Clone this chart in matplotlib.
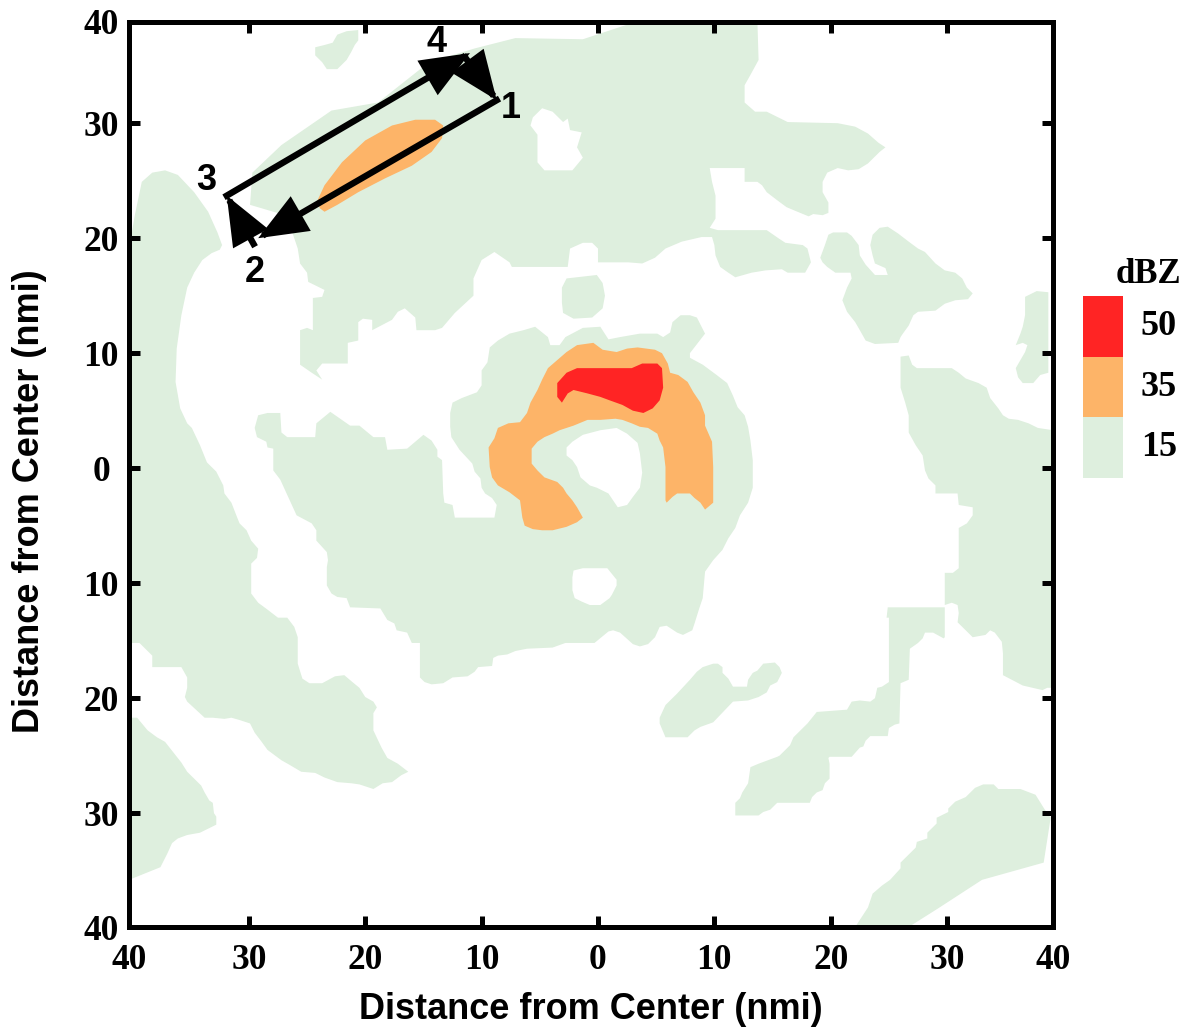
import matplotlib
matplotlib.use("Agg")
import matplotlib.pyplot as plt

# ---------------- data (nmi from storm center) ----------------
levels = [15, 35, 50]
level_colors = ["#DEEFDE", "#FDB468", "#FF2424"]

x_ticks = [-40.3, -30, -20, -10, 0, 10, 20, 30, 39.1]
y_ticks = [-39.9, -30, -20, -10, 0, 10, 20, 30, 38.8]
tick_labels = ["40", "30", "20", "10", "0", "10", "20", "30", "40"]

# 15 dBZ regions
green_north = [(-29.7, 25.7), (-27.2, 28.1), (-22.9, 31.1), (-18.9, 31.8), (-14.9, 35.0), (-13.2, 35.7),
               (-10.6, 36.5), (-7.1, 37.4), (-1.3, 37.3), (3.2, 38.8), (13.7, 38.8), (13.8, 35.5),
               (13.1, 34.2), (12.6, 33.3), (12.6, 31.8), (13.5, 31.0), (14.5, 31.0), (16.3, 30.1),
               (20.6, 30.0), (22.1, 29.7), (23.2, 29.1), (24.1, 28.3), (24.7, 27.9), (24.2, 27.5),
               (23.2, 26.5), (22.4, 26.0), (21.5, 25.9), (20.6, 26.1), (19.7, 25.7), (19.3, 24.9),
               (19.3, 24.0), (19.8, 23.1), (19.8, 22.2), (19.3, 22.0), (18.5, 22.1), (18.1, 21.9),
               (16.9, 22.4), (16.2, 22.7), (15.4, 23.3), (14.5, 24.0), (14.1, 24.6), (13.7, 24.9),
               (12.6, 24.9), (12.6, 26.1), (9.6, 26.1), (9.8, 24.9), (10.1, 23.7), (10.1, 21.7),
               (9.6, 20.9), (10.3, 20.7), (12.6, 20.7), (14.5, 20.7), (15.5, 20.0), (16.1, 19.6),
               (17.6, 19.4), (18.0, 19.1), (18.3, 17.9), (17.8, 17.0), (16.3, 17.0), (15.8, 17.3),
               (14.4, 17.2), (13.2, 17.0), (11.8, 16.6), (11.2, 17.0), (10.5, 17.5), (10.1, 18.5),
               (10.0, 19.4), (9.8, 20.1), (8.9, 20.1), (7.2, 19.7), (5.8, 19.1), (4.9, 18.3),
               (3.8, 17.8), (2.6, 17.9), (0.0, 17.9), (0.0, 19.1), (-0.5, 19.6), (-1.3, 19.6),
               (-2.4, 19.1), (-2.6, 17.5), (-7.4, 17.5), (-7.6, 17.9), (-8.9, 18.8), (-10.0, 18.1),
               (-10.7, 16.5), (-10.7, 15.0), (-12.3, 13.5), (-13.4, 12.2), (-14.0, 12.0), (-15.6, 12.0),
               (-15.7, 13.1), (-16.6, 13.9), (-17.2, 13.6), (-17.7, 12.9), (-19.4, 12.0), (-19.4, 12.9),
               (-20.2, 13.0), (-20.6, 12.7), (-20.6, 11.1), (-21.5, 10.9), (-21.5, 9.1), (-23.7, 9.1),
               (-24.2, 8.5), (-23.7, 7.7), (-24.6, 8.3), (-25.6, 9.0), (-25.6, 12.0), (-25.0, 12.2),
               (-24.5, 12.0), (-24.5, 14.8), (-23.7, 14.9), (-23.5, 15.5), (-23.9, 15.7), (-24.9, 16.2),
               (-25.0, 17.0), (-25.6, 17.8), (-25.8, 19.1), (-26.2, 20.3), (-26.9, 22.0), (-29.9, 22.9)]
green_north_islet = [(-24.3, 36.6), (-23.5, 36.8), (-22.8, 37.0), (-22.4, 37.7), (-21.6, 38.0), (-20.6, 38.1),
                     (-20.6, 37.2), (-20.9, 36.8), (-21.2, 36.2), (-21.6, 35.5), (-22.4, 34.7), (-23.3, 34.7),
                     (-23.7, 35.3), (-24.3, 35.9)]
green_west_arc = [(-40.3, 19.1), (-39.8, 22.0), (-39.2, 24.9), (-38.3, 25.7), (-37.2, 25.9), (-36.1, 25.5),
                  (-34.7, 24.0), (-33.5, 22.3), (-32.7, 20.5), (-32.3, 19.4), (-32.5, 19.0), (-33.2, 18.7),
                  (-34.0, 18.1), (-34.7, 17.0), (-35.3, 15.7), (-35.8, 13.3), (-36.2, 10.4), (-36.3, 7.5),
                  (-35.9, 5.2), (-35.3, 3.9), (-34.9, 3.5), (-34.2, 2.0), (-33.6, 0.5), (-32.8, -0.3),
                  (-32.2, -1.5), (-32.1, -2.2), (-31.5, -3.0), (-31.0, -4.3), (-30.8, -4.8), (-30.2, -5.4),
                  (-29.8, -6.3), (-29.2, -7.0), (-29.3, -7.8), (-29.8, -8.3), (-29.8, -10.9), (-29.2, -11.7),
                  (-28.4, -12.3), (-27.5, -13.0), (-26.7, -13.0), (-26.1, -13.8), (-25.8, -14.7), (-25.8, -17.0),
                  (-25.4, -18.3), (-24.8, -18.7), (-23.7, -18.7), (-22.6, -18.1), (-21.8, -18.0), (-21.1, -18.6),
                  (-20.5, -19.1), (-20.0, -19.9), (-19.3, -20.3), (-19.0, -20.8), (-19.3, -21.3), (-19.3, -22.8),
                  (-18.6, -24.3), (-18.1, -25.2), (-17.2, -25.7), (-16.3, -26.4), (-16.9, -26.7), (-17.7, -27.3),
                  (-18.5, -27.4), (-19.3, -27.9), (-20.5, -27.5), (-21.2, -27.4), (-22.4, -27.3), (-23.5, -26.9),
                  (-24.3, -26.5), (-25.5, -26.4), (-26.5, -25.8), (-27.2, -25.4), (-28.4, -24.5), (-28.9, -23.8),
                  (-29.5, -23.0), (-29.9, -22.2), (-30.8, -21.9), (-31.5, -21.7), (-32.1, -21.8), (-33.1, -21.7),
                  (-33.8, -21.7), (-35.3, -20.3), (-35.5, -19.9), (-35.3, -19.1), (-35.3, -18.2), (-35.8, -17.3),
                  (-38.3, -17.3), (-38.3, -16.3), (-39.4, -15.2), (-40.3, -15.2)]
green_southwest = [(-40.3, -21.7), (-39.6, -21.7), (-38.7, -22.8), (-37.9, -23.4), (-37.2, -23.8), (-36.5, -24.7),
                   (-35.8, -25.6), (-35.3, -26.4), (-34.1, -27.6), (-33.8, -28.2), (-33.4, -28.9), (-33.1, -29.1),
                   (-33.0, -30.0), (-32.8, -30.3), (-32.8, -31.0), (-34.2, -31.7), (-35.3, -31.9), (-36.1, -32.2),
                   (-36.6, -32.6), (-37.0, -33.5), (-37.6, -34.7), (-40.3, -35.8)]
green_core = [(-8.6, 11.1), (-7.6, 11.7), (-6.4, 12.0), (-5.4, 12.3), (-4.3, 11.4), (-4.1, 10.7), (-3.3, 10.7),
              (-2.8, 11.4), (-1.3, 12.2), (0.2, 12.3), (0.9, 11.2), (1.9, 11.4), (3.6, 11.7), (5.1, 11.7),
              (5.6, 11.4), (6.2, 11.8), (6.4, 12.7), (7.1, 13.3), (7.9, 13.3), (8.5, 13.1), (9.2, 11.7),
              (7.9, 10.0), (7.9, 9.6), (9.0, 9.0), (10.2, 8.1), (11.1, 7.4), (11.6, 6.3), (12.0, 5.3),
              (12.6, 4.6), (12.9, 3.6), (13.1, 2.4), (13.3, 0.7), (13.3, -1.7), (12.9, -3.0), (12.2, -4.1),
              (11.8, -5.2), (11.2, -6.1), (10.7, -7.1), (9.9, -8.0), (9.2, -9.0), (9.0, -11.3), (8.7, -12.2),
              (8.3, -13.5), (8.1, -14.1), (7.3, -14.5), (6.8, -14.3), (5.9, -13.7), (5.3, -13.8), (4.9, -14.7),
              (4.3, -15.3), (3.6, -15.5), (3.0, -15.3), (1.9, -14.3), (1.3, -14.1), (0.9, -14.2), (-0.3, -15.2),
              (-2.8, -15.2), (-3.9, -15.6), (-6.1, -15.7), (-7.1, -15.9), (-7.8, -16.2), (-8.6, -16.3),
              (-9.0, -16.5), (-9.1, -17.2), (-10.3, -17.3), (-10.6, -17.7), (-11.2, -18.1), (-12.5, -18.2),
              (-13.3, -18.7), (-14.3, -18.8), (-14.9, -18.6), (-15.3, -18.2), (-15.3, -15.2), (-16.0, -15.2),
              (-16.4, -14.3), (-17.3, -14.1), (-17.5, -13.5), (-18.1, -13.2), (-18.7, -12.2), (-21.3, -12.1),
              (-21.6, -11.3), (-22.4, -11.2), (-22.9, -10.9), (-23.3, -10.2), (-23.3, -8.6), (-23.2, -8.0),
              (-23.3, -7.3), (-24.2, -6.3), (-24.2, -5.4), (-24.6, -4.8), (-25.9, -4.1), (-27.3, -1.0),
              (-27.9, -0.2), (-27.9, 1.7), (-28.4, 1.8), (-28.5, 2.3), (-29.3, 2.7), (-29.5, 3.5), (-29.2, 4.6),
              (-28.4, 4.8), (-27.3, 4.8), (-27.2, 3.1), (-26.7, 2.7), (-24.3, 2.7), (-24.2, 3.9), (-23.0, 4.9),
              (-21.3, 3.7), (-20.5, 3.7), (-19.3, 2.7), (-18.3, 2.7), (-18.1, 1.6), (-16.4, 1.7), (-15.0, 2.9),
              (-14.3, 2.4), (-13.8, 1.6), (-13.8, 1.0), (-13.4, 0.7), (-13.3, -2.2), (-13.2, -3.0), (-12.5, -3.2),
              (-12.3, -4.3), (-8.9, -4.3), (-8.7, -3.2), (-9.1, -2.6), (-9.7, -2.2), (-10.0, -1.7), (-10.1, -0.9),
              (-10.6, -0.3), (-10.8, 0.4), (-11.9, 1.6), (-12.6, 2.7), (-12.7, 3.6), (-12.7, 4.8), (-12.5, 5.7),
              (-11.7, 6.1), (-10.4, 6.6), (-10.0, 7.2), (-10.0, 8.5), (-9.5, 9.2), (-9.3, 10.5)]
green_core_islet = [(-2.7, 16.5), (-0.1, 16.8), (0.4, 16.1), (0.6, 15.0), (0.4, 13.9), (-0.5, 13.1), (-2.1, 13.0),
                    (-3.0, 13.5), (-3.1, 14.4), (-3.1, 15.7)]
green_ne_band = [(19.5, 19.4), (19.8, 20.3), (20.2, 20.5), (21.4, 20.5), (21.8, 20.2), (22.4, 19.4), (22.5, 18.5),
                 (23.0, 17.7), (23.8, 16.8), (24.9, 16.8), (24.7, 17.4), (23.8, 17.8), (23.6, 18.5), (23.4, 19.4),
                 (23.6, 20.3), (24.2, 20.9), (24.9, 21.0), (25.8, 20.4), (26.7, 19.7), (27.5, 19.1), (28.1, 18.8),
                 (29.0, 17.8), (29.8, 17.2), (30.7, 17.0), (31.3, 16.5), (31.7, 15.7), (32.2, 15.2), (31.8, 14.7),
                 (30.7, 14.6), (29.8, 14.3), (29.0, 13.7), (27.5, 13.6), (27.1, 13.3), (26.7, 12.4), (26.2, 11.7),
                 (26.0, 11.4), (25.8, 10.9), (23.8, 10.8), (23.0, 11.1), (22.5, 12.0), (22.1, 12.7), (21.4, 13.6),
                 (21.0, 14.6), (21.4, 15.7), (21.8, 16.5), (21.7, 17.0), (21.0, 17.0), (20.4, 17.0), (19.7, 17.5),
                 (19.3, 17.9), (19.1, 18.3)]
green_east_islet = [(36.7, 14.9), (37.7, 15.4), (38.7, 15.3), (38.7, 8.3), (38.0, 8.1), (37.4, 7.4), (36.5, 7.4),
                    (36.1, 7.9), (35.9, 8.7), (36.3, 9.4), (36.7, 10.1), (36.9, 10.7), (36.5, 10.9), (35.9, 10.7),
                    (36.3, 11.7), (36.5, 12.3), (36.7, 13.3)]
green_east = [(26.0, 9.7), (26.0, 7.0), (26.4, 5.7), (26.7, 4.6), (26.7, 3.1), (27.3, 2.0), (27.9, 1.1),
              (28.1, -0.2), (28.4, -0.9), (29.0, -1.5), (29.0, -2.2), (30.9, -2.2), (31.0, -3.2), (32.2, -3.4),
              (32.2, -4.1), (31.7, -4.8), (31.0, -5.2), (31.0, -8.7), (30.5, -9.1), (29.8, -9.1), (29.8, -12.1),
              (29.2, -12.1), (24.9, -12.1), (24.8, -13.0), (25.0, -13.0), (25.0, -18.6), (24.4, -19.0),
              (24.0, -19.1), (23.8, -20.0), (23.4, -20.3), (22.5, -20.2), (21.8, -20.3), (21.4, -21.0),
              (18.8, -21.2), (18.0, -22.2), (17.6, -22.6), (16.8, -23.4), (16.5, -24.1), (15.6, -25.0),
              (15.4, -25.1), (14.6, -25.4), (13.8, -25.7), (13.1, -26.0), (12.9, -27.4), (12.4, -28.2),
              (12.2, -28.7), (11.8, -29.1), (11.8, -30.2), (13.8, -30.2), (14.2, -29.9), (14.8, -29.7),
              (15.4, -29.1), (18.2, -29.1), (18.4, -28.6), (18.8, -28.2), (19.3, -28.0), (19.5, -27.4),
              (19.9, -27.0), (19.9, -25.7), (19.8, -25.2), (19.9, -25.1), (21.8, -25.1), (22.5, -24.3),
              (22.8, -24.2), (23.0, -23.7), (23.4, -23.3), (24.9, -23.3), (25.0, -22.6), (25.5, -22.3),
              (25.9, -22.2), (26.0, -18.7), (26.7, -18.4), (26.8, -15.7), (27.5, -15.2), (27.9, -14.8),
              (28.1, -14.3), (28.8, -14.3), (29.7, -14.8), (29.8, -14.7), (29.8, -11.9), (30.4, -11.7),
              (30.9, -11.9), (31.0, -12.6), (30.9, -13.4), (31.8, -14.3), (32.2, -14.7), (33.3, -14.5),
              (33.7, -14.1), (34.1, -14.3), (34.7, -15.1), (34.8, -16.1), (34.8, -18.0), (36.5, -18.9),
              (38.2, -19.3), (38.6, -19.1), (39.1, -19.1), (39.1, 3.3), (37.8, 3.5), (37.0, 3.9), (36.1, 4.2),
              (35.3, 4.3), (34.8, 4.6), (34.4, 5.2), (33.7, 6.1), (33.4, 7.0), (32.7, 7.4), (31.6, 7.8),
              (31.0, 8.3), (30.4, 8.7), (27.4, 8.7), (27.0, 9.0), (26.7, 9.8)]
green_se_islet = [(5.8, -23.4), (5.3, -22.2), (5.3, -21.7), (5.8, -20.6), (6.2, -20.2), (6.8, -19.6), (7.9, -18.4),
                  (8.5, -17.7), (9.0, -17.3), (9.9, -17.0), (10.3, -17.0), (10.7, -17.3), (10.7, -17.8),
                  (11.2, -18.3), (11.6, -19.0), (12.8, -19.0), (12.9, -18.4), (13.3, -17.8), (13.7, -17.6),
                  (14.2, -17.0), (15.2, -16.9), (15.6, -17.3), (15.8, -17.8), (15.4, -18.6), (14.8, -18.9),
                  (14.5, -19.5), (13.8, -19.9), (12.9, -20.2), (11.6, -20.3), (9.9, -22.1), (8.8, -22.5),
                  (8.3, -22.8), (7.7, -23.4)]
green_southeast = [(22.1, -39.9), (23.2, -38.2), (23.6, -37.0), (24.4, -36.3), (25.1, -35.8), (26.0, -34.8),
                   (26.0, -34.3), (27.3, -33.0), (27.4, -32.5), (28.3, -32.2), (28.3, -31.7), (29.1, -30.9),
                   (29.1, -30.4), (30.1, -29.9), (30.1, -29.6), (30.7, -29.0), (31.6, -28.6), (32.4, -27.8),
                   (33.1, -27.5), (34.0, -27.5), (34.4, -27.9), (36.3, -27.9), (37.6, -28.4), (38.4, -29.7),
                   (38.9, -30.4), (38.3, -34.3), (33.0, -35.8), (29.2, -38.3), (26.7, -39.9)]

# echo-free holes inside the 15 dBZ area
hole_north = [(-4.8, 31.3), (-3.9, 31.0), (-3.0, 30.1), (-2.6, 30.4), (-2.4, 29.4), (-1.4, 29.2), (-1.8, 27.9),
              (-1.3, 27.0), (-2.2, 25.9), (-4.6, 25.9), (-5.2, 26.6), (-5.2, 29.0), (-5.8, 29.8), (-5.6, 30.5)]
hole_eye = [(-2.7, 1.8), (-2.2, 2.3), (-1.3, 2.9), (0.2, 3.3), (1.6, 3.5), (2.5, 3.0), (3.4, 2.2), (3.6, 1.3),
            (3.8, -0.4), (3.6, -1.7), (3.0, -2.5), (2.5, -3.2), (1.7, -3.4), (1.3, -2.8), (0.9, -2.2),
            (-0.1, -1.7), (-0.7, -1.5), (-1.5, -0.8), (-1.8, 0.1), (-2.2, 0.7), (-2.7, 1.1)]
hole_south = [(-2.1, -8.9), (-1.3, -8.7), (0.8, -8.7), (1.6, -9.7), (1.6, -10.2), (1.2, -11.0), (1.0, -11.3),
              (0.2, -11.9), (-0.7, -11.9), (-1.4, -11.6), (-2.0, -11.3), (-2.2, -10.6), (-2.2, -9.5)]

# 35 dBZ regions
orange_eyewall = [(-1.3, -4.3), (-1.8, -4.7), (-2.7, -5.1), (-3.9, -5.4), (-4.8, -5.4), (-5.6, -5.3), (-6.3, -5.0),
                  (-6.5, -4.3), (-6.7, -2.8), (-7.6, -2.1), (-8.6, -1.5), (-9.1, -0.8), (-9.3, 0.1), (-9.4, 1.8),
                  (-8.9, 2.6), (-8.6, 3.5), (-7.7, 3.9), (-6.7, 4.0), (-6.1, 4.8), (-5.8, 5.7), (-5.2, 6.8),
                  (-4.8, 7.7), (-4.3, 8.7), (-3.5, 9.4), (-2.7, 10.1), (-1.8, 10.7), (-0.4, 10.9), (0.4, 10.3),
                  (1.6, 10.1), (2.5, 10.4), (3.4, 10.5), (4.9, 10.3), (5.5, 10.0), (6.0, 9.1), (6.2, 8.3),
                  (6.9, 8.1), (7.7, 7.5), (8.2, 6.6), (8.8, 5.7), (9.2, 4.6), (9.2, 3.7), (9.8, 2.3), (9.9, 0.1),
                  (9.9, -3.0), (9.2, -3.6), (8.8, -3.0), (8.3, -2.6), (7.9, -2.2), (6.8, -2.2), (6.4, -2.5),
                  (5.9, -3.0), (5.8, -2.8), (5.8, 0.1), (5.6, 1.8), (5.3, 2.4), (5.1, 3.0), (4.3, 3.5), (3.6, 3.6),
                  (2.9, 3.9), (2.1, 4.2), (1.5, 4.3), (0.2, 4.2), (-0.9, 4.2), (-2.1, 3.7), (-3.3, 3.3), (-3.9, 3.0),
                  (-4.6, 2.7), (-5.2, 2.3), (-5.7, 1.7), (-5.7, 0.4), (-5.2, -0.2), (-4.6, -0.8), (-3.5, -1.2),
                  (-3.0, -1.7), (-2.7, -2.2), (-2.2, -2.8), (-1.8, -3.4)]
orange_band = [(-24.1, 23.3), (-23.5, 24.6), (-22.0, 26.6), (-20.0, 28.5), (-17.7, 29.8), (-15.7, 30.3),
               (-14.0, 30.3), (-13.3, 29.8), (-13.4, 28.7), (-14.3, 27.5), (-16.0, 26.3), (-18.3, 25.2),
               (-20.6, 24.0), (-22.4, 22.9), (-23.5, 22.3), (-23.9, 22.6)]

# 50 dBZ region
red_core = [(-3.5, 7.4), (-2.7, 8.3), (-1.8, 8.7), (0.2, 8.7), (2.9, 8.7), (3.8, 9.1), (5.1, 9.1), (5.5, 8.7),
            (5.6, 7.0), (5.3, 5.9), (4.7, 5.2), (3.9, 4.8), (3.0, 5.0), (2.1, 5.5), (1.0, 5.9), (0.2, 6.2),
            (-0.9, 6.5), (-2.1, 6.8), (-2.6, 6.5), (-3.1, 5.7), (-3.5, 6.2)]

# flight track corners 1-4 and their labels
track_x = [-8.7, -29.2, -31.9, -11.0]
track_y = [32.0, 20.0, 23.7, 36.1]
track_names = ["1", "2", "3", "4"]
label_x = [-7.5, -29.5, -33.7, -13.9]
label_y = [31.3, 17.0, 25.0, 37.0]

# ---------------- figure ----------------
W, H = 1201, 1029
fig = plt.figure(figsize=(W / 100, H / 100), dpi=100)
ax = fig.add_axes([129 / W, 102 / H, 924 / W, 905 / H])

SERIF = "Liberation Serif"
SANS = "Liberation Sans"

green_shapes = [green_north, green_north_islet, green_west_arc, green_southwest, green_core, green_core_islet,
                green_ne_band, green_east_islet, green_east, green_se_islet, green_southeast]
for shp in green_shapes:
    xs, ys = zip(*shp)
    ax.fill(xs, ys, color=level_colors[0], lw=0, zorder=1)
for shp in [hole_north, hole_eye, hole_south]:
    xs, ys = zip(*shp)
    ax.fill(xs, ys, color="white", lw=0, zorder=2)
for shp in [orange_eyewall, orange_band]:
    xs, ys = zip(*shp)
    ax.fill(xs, ys, color=level_colors[1], lw=0, zorder=3)
xs, ys = zip(*red_core)
ax.fill(xs, ys, color=level_colors[2], lw=0, zorder=4)

# track arrows: 1->2, 2->3, 3->4, 4->1
astyle = "-|>,head_length=1.35,head_width=0.55"
segs = [(0, 1), (1, 2), (2, 3), (3, 0)]
for a, b in segs:
    sx, sy = track_x[a], track_y[a]
    ex, ey = track_x[b], track_y[b]
    if (a, b) == (1, 2):
        sx, sy = sx - 0.4, sy - 0.5
    if (a, b) == (3, 0):
        sx, sy = sx - 0.4, sy - 0.4
    ax.annotate("", xy=(ex, ey), xytext=(sx, sy),
                arrowprops=dict(arrowstyle=astyle, mutation_scale=20, lw=4.6, color="black",
                                shrinkA=0, shrinkB=0, joinstyle="miter", capstyle="projecting"),
                zorder=6)
for name, lx, ly in zip(track_names, label_x, label_y):
    ax.text(lx, ly, name, fontsize=26, fontweight="bold", family=SANS, ha="center", va="center", zorder=7)

ax.set_xlim(x_ticks[0], x_ticks[-1])
ax.set_ylim(y_ticks[0], y_ticks[-1])
ax.set_xticks(x_ticks)
ax.set_xticklabels(tick_labels)
ax.set_yticks(y_ticks)
ax.set_yticklabels(tick_labels)
for sp in ax.spines.values():
    sp.set_linewidth(3.6)
ax.tick_params(direction="in", length=8, width=3.6, top=True, right=True,
               labelsize=25.5)
ax.tick_params(axis="x", pad=12)
ax.tick_params(axis="y", pad=20)
for lab in ax.get_xticklabels() + ax.get_yticklabels():
    lab.set_family(SERIF)
    lab.set_fontweight("bold")
for lab in ax.get_yticklabels():
    lab.set_ha("center")

ax.set_xlabel("Distance from Center (nmi)", fontsize=26, fontweight="bold", family=SANS)
ax.set_ylabel("Distance from Center (nmi)", fontsize=26, fontweight="bold", family=SANS)
ax.xaxis.set_label_coords(0.5, -0.072)
ax.yaxis.set_label_coords(-0.108, 0.47)
ax.yaxis.label.set_va("center")

# legend (color key)
cax = fig.add_axes([1083 / W, 551 / H, 40 / W, 182 / H])
for i, (lev, col) in enumerate(zip(levels, level_colors)):
    cax.bar(0, 1, bottom=i, width=1, color=col, lw=0)
    cax.text(1.9, (i + 0.5) / 3, str(lev), transform=cax.transAxes, fontsize=26, fontweight="bold",
             family=SERIF, ha="center", va="center")
cax.text(1.63, 1.07, "dBZ", transform=cax.transAxes, fontsize=25, fontweight="bold", family=SERIF,
         ha="center", va="baseline")
cax.set_xlim(-0.5, 0.5)
cax.set_ylim(0, 3)
cax.axis("off")

fig.savefig("out.png", dpi=100)
